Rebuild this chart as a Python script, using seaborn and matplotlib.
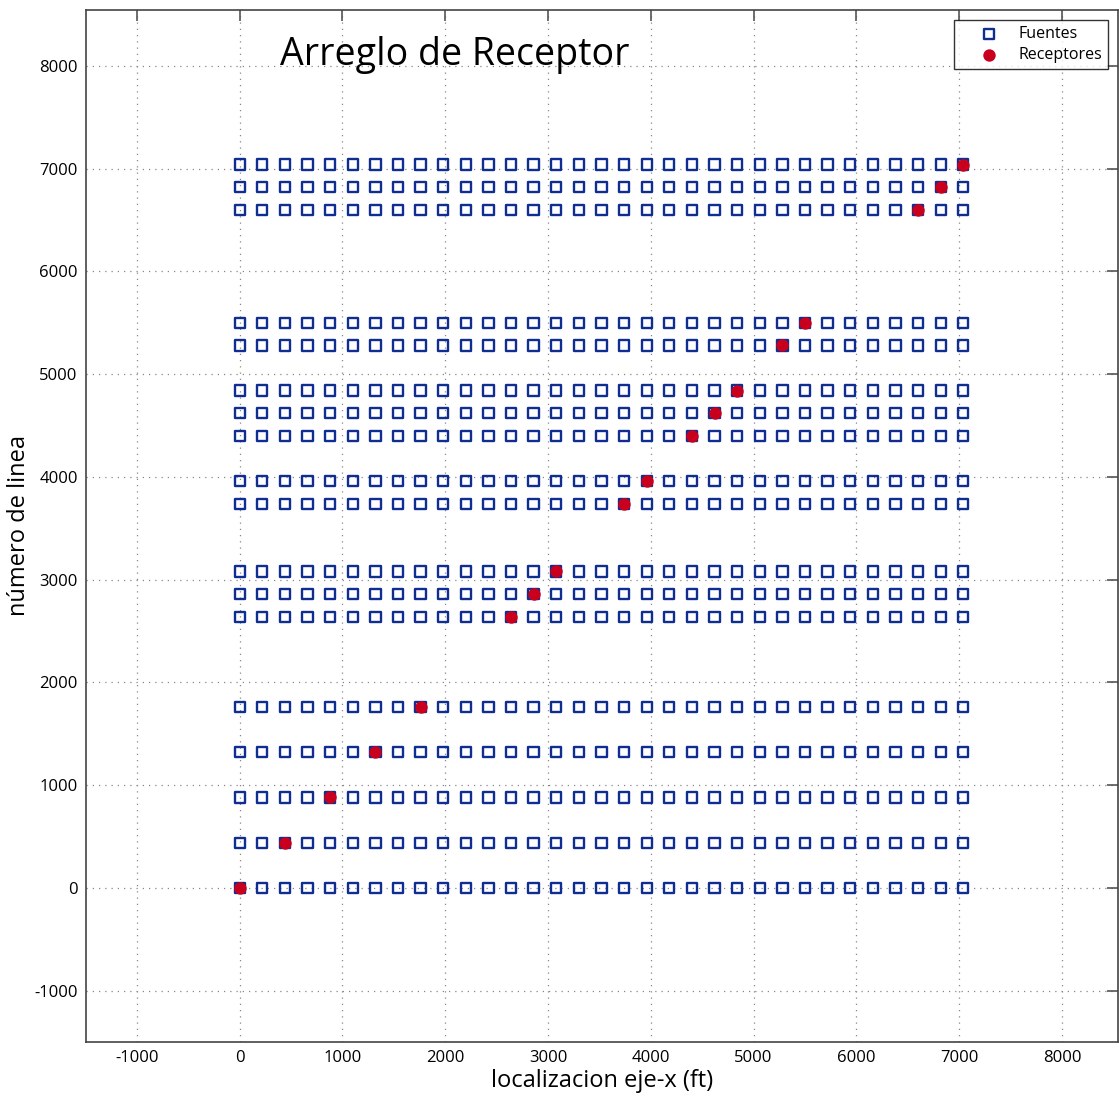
import pandas as pd
import seaborn as sns
import matplotlib.pyplot as plt

# source positions along each line (ft)
src_x = [0, 220, 440, 660, 880, 1100, 1320, 1540, 1760, 1980, 2200, 2420,
         2640, 2860, 3080, 3300, 3520, 3740, 3960, 4180, 4400, 4620, 4840,
         5060, 5280, 5500, 5720, 5940, 6160, 6380, 6600, 6820, 7040]
# line numbers
lineas = [0, 440, 880, 1320, 1760, 2640, 2860, 3080, 3740, 3960,
          4400, 4620, 4840, 5280, 5500, 6600, 6820, 7040]
# receivers
rec_x = [0, 440, 880, 1320, 1760, 2640, 2860, 3080, 3740, 3960,
         4400, 4620, 4840, 5280, 5500, 6600, 6820, 7040]
rec_y = [0, 440, 880, 1320, 1760, 2640, 2860, 3080, 3740, 3960,
         4400, 4620, 4840, 5280, 5500, 6600, 6820, 7040]

df_src = pd.DataFrame([(x, y) for y in lineas for x in src_x], columns=['x', 'y'])
df_rec = pd.DataFrame({'x': rec_x, 'y': rec_y})

sns.set_style('white')
plt.rcParams['font.family'] = ['Open Sans', 'DejaVu Sans']
plt.rcParams['axes.unicode_minus'] = False
plt.rcParams['text.color'] = 'black'
plt.rcParams['axes.labelcolor'] = 'black'

fig = plt.figure(figsize=(11.19, 10.96), dpi=100)
ax = fig.add_axes([86 / 1119, 54 / 1096, 1032 / 1119, 1032 / 1096])

sns.scatterplot(data=df_src, x='x', y='y', marker='s', s=55, facecolor='none',
                edgecolor='#102e8f', linewidth=1.7, label='Fuentes', ax=ax, zorder=3)
sns.scatterplot(data=df_rec, x='x', y='y', marker='o', s=80, color='#c8001e',
                edgecolor='#c8001e', linewidth=0, label='Receptores', ax=ax, zorder=4)

ax.set_xlim(-1495, 8545)
ax.set_ylim(-1500, 8545)
ax.set_xticks(range(-1000, 9000, 1000))
ax.set_yticks(range(-1000, 9000, 1000))
ax.grid(True, linestyle=(0, (1, 4)), color='#888888', linewidth=0.9)
ax.tick_params(direction='in', length=8, width=1.2, top=True, right=True,
               labelsize=12, colors='#555555', labelcolor='black', pad=6)
for sp in ax.spines.values():
    sp.set_color('#444444')
    sp.set_linewidth(1.2)

ax.set_xlabel('localizacion eje-x (ft)', fontsize=17, labelpad=2)
ax.set_ylabel('número de linea', fontsize=17, labelpad=2)
ax.text(0.357, 0.956, 'Arreglo de Receptor', transform=ax.transAxes,
        fontsize=27, ha='center', va='center', color='black')

leg = ax.legend(loc='upper right', fontsize=11.5, frameon=True, fancybox=False,
                edgecolor='black', borderaxespad=0.6, handletextpad=0.1,
                borderpad=0.4, labelspacing=0.3, handlelength=3.5)
leg.get_frame().set_linewidth(1.0)

fig.savefig('out.png', dpi=100)
